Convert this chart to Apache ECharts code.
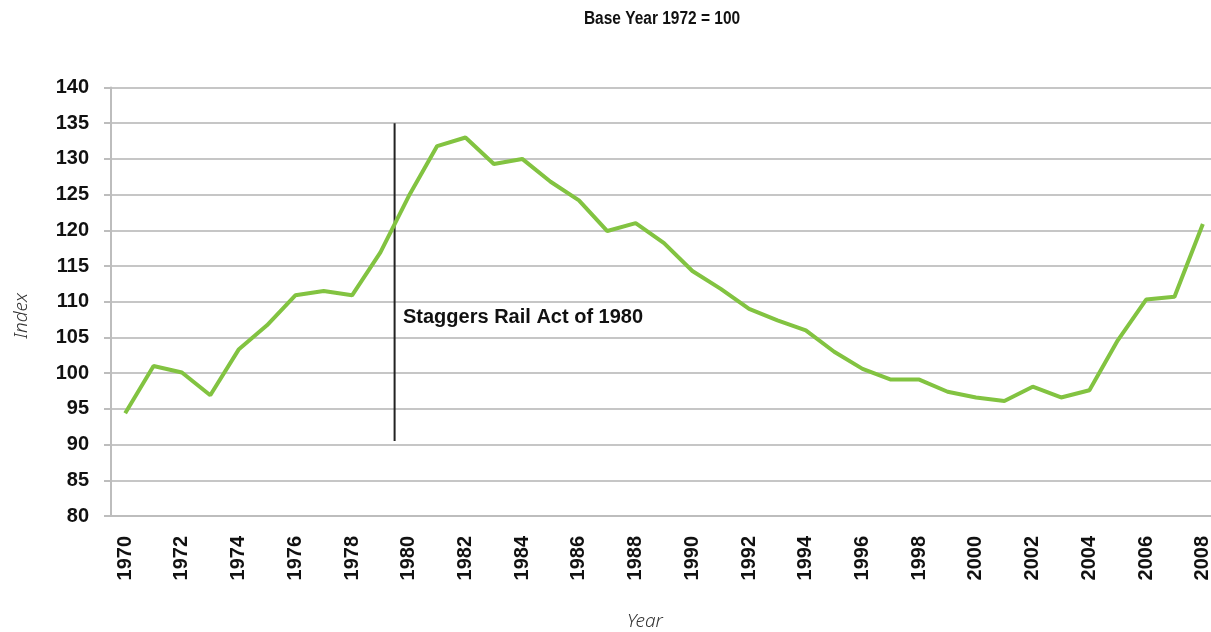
<!DOCTYPE html>
<html>
<head>
<meta charset="utf-8">
<title>Base Year 1972 = 100</title>
<script src="https://cdn.jsdelivr.net/npm/echarts@6/dist/echarts.min.js"></script>
<style>
  html, body { margin: 0; padding: 0; background: #fff; }
  #chart { width: 1211px; height: 632px; }
</style>
</head>
<body>
<div id="chart"></div>
<script>
// years on the x axis
var years = [
  "1970", "1971", "1972", "1973", "1974", "1975", "1976", "1977", "1978", "1979",
  "1980", "1981", "1982", "1983", "1984", "1985", "1986", "1987", "1988", "1989",
  "1990", "1991", "1992", "1993", "1994", "1995", "1996", "1997", "1998", "1999",
  "2000", "2001", "2002", "2003", "2004", "2005", "2006", "2007", "2008"
];
// index values, base year 1972 = 100
var indexValues = [
  94.4, 101.0, 100.1, 96.9, 103.3, 106.7, 110.9, 111.5, 110.9, 116.9,
  124.8, 131.8, 133.0, 129.3, 130.0, 126.8, 124.2, 119.9, 121.0, 118.2,
  114.3, 111.8, 109.0, 107.4, 106.0, 103.0, 100.6, 99.1, 99.1, 97.4,
  96.6, 96.1, 98.1, 96.6, 97.6, 104.6, 110.3, 110.7, 120.9
];
// Staggers Rail Act marker: drawn on the boundary before 1980
var actYear = 1979.5;
var actRange = [90.5, 135];
var yMin = 80, yMax = 140, yStep = 5;

var chartDom = document.getElementById("chart");
var myChart = echarts.init(chartDom);
var option;

var gridLeft = 111, gridTop = 87.5, gridHeight = 428.5;
var yearWidth = 28.36;
var gridWidth = years.length * yearWidth;

var tickFont = "'Liberation Sans', Arial, sans-serif";

option = {
  animation: false,
  backgroundColor: "#fff",
  grid: {
    left: gridLeft,
    top: gridTop,
    width: gridWidth,
    height: gridHeight,
    outerBoundsMode: "none",
    containLabel: false
  },
  xAxis: [
    {
      type: "category",
      data: years,
      boundaryGap: true,
      axisLine: { lineStyle: { color: "#bdbdbd", width: 2 } },
      axisTick: { interval: 0, length: 7, lineStyle: { color: "#bdbdbd", width: 2 } },
      axisLabel: {
        interval: 1,
        rotate: 90,
        margin: 20,
        fontFamily: tickFont,
        fontWeight: "bold",
        fontSize: 20,
        color: "#111"
      },
      splitLine: { show: false }
    },
    {
      // hidden value axis, used only to place the act marker between categories
      type: "value",
      min: 1969.5,
      max: 1969.5 + years.length,
      show: false
    }
  ],
  yAxis: {
    type: "value",
    min: yMin,
    max: yMax,
    interval: yStep,
    axisLine: { show: true, lineStyle: { color: "#bdbdbd", width: 2 } },
    axisTick: { show: true, length: 7, lineStyle: { color: "#bdbdbd", width: 2 } },
    axisLabel: {
      margin: 22,
      fontFamily: tickFont,
      fontWeight: "bold",
      fontSize: 20,
      color: "#111"
    },
    splitLine: { lineStyle: { color: "#c6c6c6", width: 2 } }
  },
  series: [
    {
      name: "Staggers Rail Act",
      type: "line",
      xAxisIndex: 1,
      data: [[actYear, actRange[0]], [actYear, actRange[1]]],
      showSymbol: false,
      silent: true,
      lineStyle: { color: "#222", width: 2 },
      z: 3
    },
    {
      name: "Index",
      type: "line",
      data: indexValues,
      showSymbol: false,
      lineStyle: { color: "#82c341", width: 4 },
      z: 4
    }
  ],
  graphic: [
    {
      // title, squeezed to look like a narrow bold face
      type: "text",
      x: 662,
      y: 19,
      scaleX: 0.86,
      style: {
        text: "Base Year 1972 = 100",
        font: "bold 18px 'Liberation Sans', Arial, sans-serif",
        fill: "#111",
        align: "center",
        verticalAlign: "middle"
      }
    },
    {
      type: "text",
      left: 403,
      top: 307,
      style: {
        text: "Staggers Rail Act of 1980",
        font: "bold 20px 'Liberation Sans', Arial, sans-serif",
        fill: "#111"
      }
    },
    {
      type: "text",
      x: 22,
      y: 316,
      rotation: Math.PI / 2,
      style: {
        text: "Index",
        font: "italic 300 19px 'Noto Sans', sans-serif",
        fill: "#333",
        align: "center",
        verticalAlign: "middle"
      }
    },
    {
      type: "text",
      x: 645,
      y: 622,
      style: {
        text: "Year",
        font: "italic 300 19px 'Noto Sans', sans-serif",
        fill: "#333",
        align: "center",
        verticalAlign: "middle"
      }
    }
  ]
};

option && myChart.setOption(option);
</script>
</body>
</html>
